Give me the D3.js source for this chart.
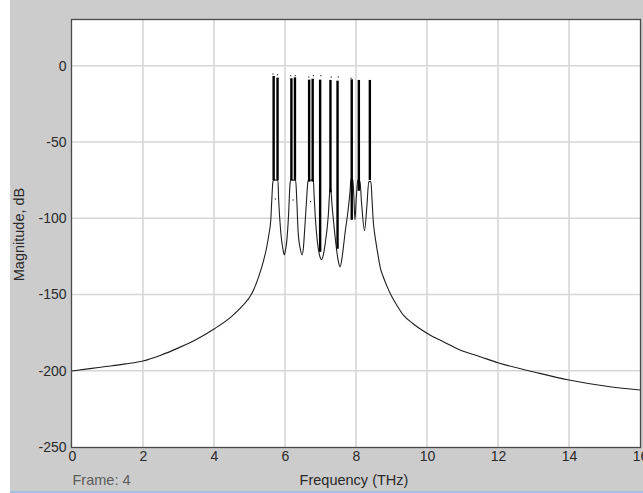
<!DOCTYPE html>
<html>
<head>
<meta charset="utf-8">
<script src="https://cdn.jsdelivr.net/npm/d3@7"></script>
<style>
  html, body { margin: 0; padding: 0; background: #ffffff; }
  svg { display: block; }
  text { font-family: "Liberation Sans", Arial, sans-serif; }
</style>
</head>
<body>
<svg id="chart" width="643" height="493"></svg>
<script>
// Spectrum envelope: frequency (THz) and magnitude (dB)
const envFreq = [
  0, 0.5, 1, 1.5, 2, 2.5, 3, 3.5, 4, 4.5, 4.8, 5.07, 5.26, 5.4, 5.48, 5.55, 5.6, 5.63, 5.66,
  5.68, 5.80, 5.82, 5.88, 5.94, 5.98, 6.02, 6.05, 6.10, 6.14,
  6.16, 6.30, 6.33, 6.37, 6.43, 6.48, 6.52, 6.55, 6.61, 6.64,
  6.66, 6.80, 6.82, 6.85, 6.91, 6.97, 7.03, 7.08, 7.13, 7.22, 7.26,
  7.29, 7.32, 7.38, 7.45, 7.50, 7.55, 7.60, 7.64, 7.70, 7.76, 7.83,
  7.86, 7.91, 7.94, 7.97, 8.01, 8.05, 8.11, 8.16, 8.24, 8.31, 8.36,
  8.42, 8.45, 8.48, 8.55, 8.62, 8.68, 8.77, 8.88, 9.0, 9.15, 9.33, 9.6, 10, 10.5, 10.93,
  11.5, 12, 13.1, 14, 15.15, 16
];
const envDb = [
  -200.2, -198.6, -197.1, -195.5, -193.6, -189.8, -185, -179.5, -172.6, -164.3, -157.5, -149.2, -138.3, -127.4, -119.5, -110, -101, -87, -76,
  -75, -75, -87, -109, -120, -124, -120, -115, -98, -78,
  -75, -75, -87, -109, -120, -124, -119, -109, -87, -77,
  -75, -75, -85, -98, -115, -124, -127, -124, -117, -98, -83,
  -80, -90, -105, -120, -128, -132, -127, -120, -108, -98, -83,
  -74, -75, -86, -101, -86, -75, -76, -91, -108, -91, -76,
  -76, -87, -100, -114, -124, -132, -138.5, -145, -151, -157, -163.4, -169, -175.4, -181.5, -186.4,
  -190.8, -194.7, -201.3, -206.1, -210.5, -212.6
];

// Dense carrier bands: centre frequency, top and bottom magnitude (dB)
const bandFreq = [5.68, 5.79, 6.18, 6.28, 6.68, 6.78, 6.99, 7.28, 7.48, 7.88, 8.08, 8.39];
const bandTop  = [-6.7, -7.8, -8.2, -7.6, -9.1, -8.5, -9.1, -9.3, -9.8, -8.9, -9.3, -9.3];
const bandBot  = [-75, -75, -75, -75, -76, -76, -122, -83, -120, -101, -82, -75];

// Isolated sample points
const dotFreq = [5.66, 5.79, 6.16, 6.29, 6.67, 6.80, 7.01, 7.30, 7.50, 7.86, 5.73, 6.23, 6.72];
const dotDb   = [-5.4, -5.9, -6.5, -6.5, -7.4, -6.5, -6.5, -7.4, -7.4, -8.2, -87.4, -88, -89.1];

// Axis ticks
const xTicks = [0, 2, 4, 6, 8, 10, 12, 14, 16];
const yTicks = [-250, -200, -150, -100, -50, 0];
const xDomain = [0, 16];
const yDomain = [-250, 30];

const svg = d3.select("#chart");
const plot = { left: 72, top: 20, right: 640, bottom: 447 };

const x = d3.scaleLinear().domain(xDomain).range([plot.left, plot.right]);
const y = d3.scaleLinear().domain(yDomain).range([plot.bottom, plot.top]);

// Window background and bottom accent line
svg.append("rect").attr("x", 10).attr("y", 0).attr("width", 633).attr("height", 491).attr("fill", "#cccccc");
svg.append("rect").attr("x", 10).attr("y", 491).attr("width", 633).attr("height", 2).attr("fill", "#a6bfe4");

// Plot area
svg.append("rect")
  .attr("x", plot.left).attr("y", plot.top)
  .attr("width", plot.right - plot.left).attr("height", plot.bottom - plot.top)
  .attr("fill", "#ffffff");

// Grid
const grid = svg.append("g");
grid.selectAll("line.vx")
  .data(xTicks.filter(d => d > xDomain[0] && d < xDomain[1]))
  .join("line")
  .attr("x1", d => x(d)).attr("x2", d => x(d))
  .attr("y1", plot.top).attr("y2", plot.bottom)
  .attr("stroke", "#d6d6d6").attr("stroke-width", 1.6);
grid.selectAll("line.hy")
  .data(yTicks.filter(d => d > yDomain[0]))
  .join("line")
  .attr("x1", plot.left).attr("x2", plot.right)
  .attr("y1", d => y(d)).attr("y2", d => y(d))
  .attr("stroke", "#d6d6d6").attr("stroke-width", 1.6);

// Envelope line
const env = envFreq.map((f, i) => [f, envDb[i]]);
svg.append("path")
  .datum(env)
  .attr("fill", "none")
  .attr("stroke", "#1e1e1e")
  .attr("stroke-width", 1.1)
  .attr("d", d3.line().curve(d3.curveMonotoneX).x(d => x(d[0])).y(d => y(d[1])));

// Carrier bands
svg.append("g").selectAll("line")
  .data(bandFreq.map((f, i) => ({ f, top: bandTop[i], bot: bandBot[i] })))
  .join("line")
  .attr("x1", d => x(d.f)).attr("x2", d => x(d.f))
  .attr("y1", d => y(d.top)).attr("y2", d => y(d.bot))
  .attr("stroke", "#000000")
  .attr("stroke-width", 2.4);

// Sample points
svg.append("g").selectAll("rect")
  .data(dotFreq.map((f, i) => ({ f, v: dotDb[i] })))
  .join("rect")
  .attr("x", d => x(d.f) - 0.6).attr("y", d => y(d.v) - 0.6)
  .attr("width", 1.2).attr("height", 1.2)
  .attr("fill", "#333333");

// Plot frame
svg.append("rect")
  .attr("x", plot.left - 0.5).attr("y", plot.top - 0.5)
  .attr("width", plot.right - plot.left + 1).attr("height", plot.bottom - plot.top + 1)
  .attr("fill", "none").attr("stroke", "#4a4a4a").attr("stroke-width", 1.3);

// Axes
const xAxis = d3.axisBottom(x).tickValues(xTicks).tickSize(0).tickPadding(4).tickFormat(d => String(d));
const yAxis = d3.axisLeft(y).tickValues(yTicks).tickSize(0).tickPadding(5.5).tickFormat(d => String(d));

const gx = svg.append("g").attr("transform", `translate(0,${plot.bottom})`).call(xAxis);
const gy = svg.append("g").attr("transform", `translate(${plot.left},0)`).call(yAxis);
[gx, gy].forEach(g => {
  g.select(".domain").remove();
  g.selectAll("text")
    .attr("font-family", "Liberation Sans, Arial, sans-serif")
    .attr("font-size", 14)
    .attr("fill", "#2a2a2a");
});

// Labels
svg.append("text")
  .attr("x", (plot.left + plot.right) / 2 - 2).attr("y", 485)
  .attr("text-anchor", "middle")
  .attr("font-size", 14.5).attr("fill", "#2a2a2a")
  .text("Frequency (THz)");

svg.append("text")
  .attr("x", plot.left + 0.5).attr("y", 485)
  .attr("font-size", 14.5).attr("fill", "#5c5c5c")
  .text("Frame: 4");

svg.append("text")
  .attr("transform", `translate(24,${(plot.top + plot.bottom) / 2 + 1}) rotate(-90)`)
  .attr("text-anchor", "middle")
  .attr("font-size", 14.5).attr("fill", "#2a2a2a")
  .text("Magnitude, dB");
</script>
</body>
</html>
